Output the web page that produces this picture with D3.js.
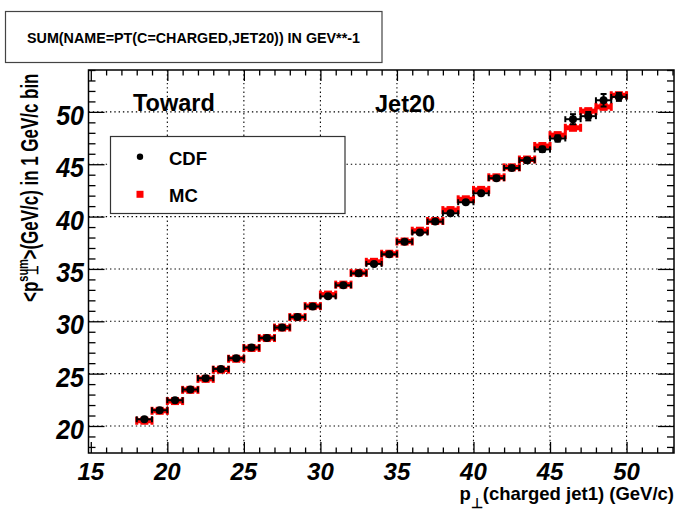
<!DOCTYPE html>
<html>
<head>
<meta charset="utf-8">
<script src="https://cdn.jsdelivr.net/npm/d3@7"></script>
<style>
  html, body { margin: 0; padding: 0; background: #fff; }
  svg { display: block; }
  text { font-family: "Liberation Sans", Arial, Helvetica, sans-serif; font-weight: bold; }
</style>
</head>
<body>
<svg id="chart" width="679" height="513"></svg>
<script>
// Leading charged-jet pT bins (GeV/c), 1 GeV/c wide
const binCenters = [18.5, 19.5, 20.5, 21.5, 22.5, 23.5, 24.5, 25.5, 26.5, 27.5,
                    28.5, 29.5, 30.5, 31.5, 32.5, 33.5, 34.5, 35.5, 36.5, 37.5,
                    38.5, 39.5, 40.5, 41.5, 42.5, 43.5, 44.5, 45.5, 46.5, 47.5,
                    48.5, 49.5];
const binHalfWidth = 0.5;

// CDF data: <pT sum> in the toward region
const cdfValues = [20.64, 21.50, 22.46, 23.48, 24.56, 25.45, 26.47, 27.49, 28.41, 29.40,
                   30.40, 31.42, 32.38, 33.44, 34.58, 35.48, 36.40, 37.60, 38.48, 39.52,
                   40.32, 41.37, 42.23, 43.67, 44.64, 45.38, 46.42, 47.46, 49.30, 49.59,
                   51.11, 51.43];
const cdfErrors = [0.08, 0.08, 0.08, 0.08, 0.08, 0.08, 0.08, 0.08, 0.08, 0.08,
                   0.08, 0.08, 0.08, 0.08, 0.08, 0.10, 0.10, 0.10, 0.10, 0.12,
                   0.12, 0.14, 0.15, 0.18, 0.20, 0.22, 0.25, 0.30, 0.48, 0.40,
                   0.60, 0.38];

// Monte Carlo prediction
const mcValues = [20.50, 21.45, 22.38, 23.45, 24.50, 25.38, 26.42, 27.45, 28.40, 29.40,
                  30.40, 31.45, 32.55, 33.50, 34.62, 35.68, 36.45, 37.62, 38.65, 39.58,
                  40.62, 41.65, 42.55, 43.75, 44.70, 45.45, 46.74, 47.78, 48.48, 50.07,
                  50.48, 51.59];
const mcErrors = [0.05, 0.05, 0.05, 0.05, 0.05, 0.05, 0.05, 0.05, 0.05, 0.05,
                  0.05, 0.05, 0.05, 0.05, 0.05, 0.05, 0.05, 0.05, 0.05, 0.05,
                  0.06, 0.06, 0.06, 0.07, 0.07, 0.08, 0.08, 0.09, 0.10, 0.10,
                  0.12, 0.12];

const xTickValues = [15, 20, 25, 30, 35, 40, 45, 50];
const yTickValues = [20, 25, 30, 35, 40, 45, 50];
const xMinorTicks = d3.range(15, 54, 1);
const yMinorTicks = d3.range(18, 55, 1);

const titleText = "SUM(NAME=PT(C=CHARGED,JET20)) IN GEV**-1";
const legendItems = [{ label: "CDF", color: "#000", shape: "circle" },
                     { label: "MC", color: "#ff0000", shape: "square" }];

// ---- frame and scales ----
const frame = { left: 88.5, right: 674, top: 70, bottom: 453 };
const x = d3.scaleLinear().domain([14.85, 53.1]).range([frame.left, frame.right]);
const y = d3.scaleLinear().domain([17.42, 54.0]).range([frame.bottom, frame.top]);

const svg = d3.select("#chart");
svg.append("rect").attr("width", 679).attr("height", 513).attr("fill", "#fff");

// dotted grid at major ticks
const grid = svg.append("g").attr("stroke", "#000").attr("stroke-width", 1.1)
  .attr("stroke-dasharray", "1.4,2.9");
grid.selectAll("line.gx").data(xTickValues.filter(v => v > 15)).join("line")
  .attr("x1", d => x(d)).attr("x2", d => x(d))
  .attr("y1", frame.top).attr("y2", frame.bottom);
grid.selectAll("line.gy").data(yTickValues).join("line")
  .attr("x1", frame.left).attr("x2", frame.right)
  .attr("y1", d => y(d)).attr("y2", d => y(d));

// axes: ticks drawn inward on all four sides
function tickAxis(axisFn, scale, values, size, transform) {
  const g = svg.append("g").attr("transform", transform)
    .call(axisFn(scale).tickValues(values).tickSize(size).tickFormat(""));
  g.select(".domain").remove();
  g.selectAll(".tick line").attr("stroke", "#000").attr("stroke-width", 1.3);
  return g;
}
const yMinor = yMinorTicks.filter(v => !yTickValues.includes(v));
const xMinor = xMinorTicks.filter(v => !xTickValues.includes(v));
tickAxis(d3.axisBottom, x, xTickValues, -11, `translate(0,${frame.bottom})`);
tickAxis(d3.axisBottom, x, xMinor, -5.5, `translate(0,${frame.bottom})`);
tickAxis(d3.axisTop, x, xTickValues, -11, `translate(0,${frame.top})`);
tickAxis(d3.axisTop, x, xMinor, -5.5, `translate(0,${frame.top})`);
tickAxis(d3.axisLeft, y, yTickValues, -16, `translate(${frame.left},0)`);
tickAxis(d3.axisLeft, y, yMinor, -7, `translate(${frame.left},0)`);
tickAxis(d3.axisRight, y, yTickValues, -16, `translate(${frame.right},0)`);
tickAxis(d3.axisRight, y, yMinor, -7, `translate(${frame.right},0)`);

// tick labels
svg.append("g").selectAll("text").data(xTickValues).join("text")
  .attr("x", d => x(d)).attr("y", 480)
  .attr("text-anchor", "middle").attr("font-size", 24).attr("font-style", "italic")
  .text(d => d);
svg.append("g").selectAll("text").data(yTickValues).join("text")
  .attr("transform", d => `translate(84,${y(d) + 13}) scale(1,1.08)`)
  .attr("text-anchor", "end").attr("font-size", 25).attr("font-style", "italic")
  .text(d => d);

// ---- data points ----
function drawSeries(values, errors, opt) {
  const g = svg.append("g");
  binCenters.forEach((c, i) => {
    const v = values[i], e = errors[i];
    const x0 = x(c - binHalfWidth), x1 = x(c + binHalfWidth), xc = x(c);
    const yc = y(v), yLo = y(v - e), yHi = y(v + e);
    g.append("line").attr("x1", x0).attr("x2", x1).attr("y1", yc).attr("y2", yc)
      .attr("stroke", opt.color).attr("stroke-width", opt.bar);
    [x0, x1].forEach(xe => g.append("line").attr("x1", xe).attr("x2", xe)
      .attr("y1", yc - opt.cap).attr("y2", yc + opt.cap)
      .attr("stroke", opt.color).attr("stroke-width", opt.capW));
    if (yLo - yHi > 2) {
      g.append("line").attr("x1", xc).attr("x2", xc).attr("y1", yHi).attr("y2", yLo)
        .attr("stroke", opt.color).attr("stroke-width", opt.bar);
      [yHi, yLo].forEach(ye => g.append("line").attr("x1", xc - opt.cap).attr("x2", xc + opt.cap)
        .attr("y1", ye).attr("y2", ye).attr("stroke", opt.color).attr("stroke-width", opt.capW));
    }
    if (opt.shape === "square") {
      g.append("rect").attr("x", xc - opt.size / 2).attr("y", yc - opt.size / 2)
        .attr("width", opt.size).attr("height", opt.size).attr("fill", opt.color);
    } else {
      g.append("circle").attr("cx", xc).attr("cy", yc).attr("r", opt.size / 2).attr("fill", opt.color);
    }
  });
}
drawSeries(mcValues, mcErrors, { color: "#ff0000", bar: 5, cap: 4, capW: 3, size: 8, shape: "square" });
drawSeries(cdfValues, cdfErrors, { color: "#000", bar: 2, cap: 3, capW: 2, size: 8, shape: "circle" });

// frame
svg.append("rect").attr("x", frame.left).attr("y", frame.top)
  .attr("width", frame.right - frame.left).attr("height", frame.bottom - frame.top)
  .attr("fill", "none").attr("stroke", "#000").attr("stroke-width", 1.5);

// ---- legend ----
const lg = svg.append("g");
lg.append("rect").attr("x", 110.5).attr("y", 136.5).attr("width", 234.5).attr("height", 77)
  .attr("fill", "#fff").attr("stroke", "#333").attr("stroke-width", 1.2);
legendItems.forEach((it, i) => {
  const cy = 156.7 + i * 37.6;
  if (it.shape === "circle") {
    lg.append("circle").attr("cx", 140).attr("cy", cy).attr("r", 3.2).attr("fill", it.color);
  } else {
    lg.append("rect").attr("x", 136.5).attr("y", cy - 3.5).attr("width", 7).attr("height", 7).attr("fill", it.color);
  }
  lg.append("text").attr("x", 169).attr("y", cy + 8).attr("font-size", 18.5).text(it.label);
});

// region labels
svg.append("text").attr("x", 133).attr("y", 110.7).attr("font-size", 23.5).text("Toward");
svg.append("text").attr("x", 375).attr("y", 111.7).attr("font-size", 23.5).text("Jet20");

// ---- title box ----
svg.append("rect").attr("x", 5.5).attr("y", 11.5).attr("width", 376.5).attr("height", 51)
  .attr("fill", "#fff").attr("stroke", "#444").attr("stroke-width", 1.2);
svg.append("text").attr("x", 193.5).attr("y", 42.7).attr("text-anchor", "middle")
  .attr("font-size", 14.3).text(titleText);

// ---- axis titles ----
const xt = svg.append("text").attr("x", 674).attr("y", 500).attr("text-anchor", "end")
  .attr("font-size", 18.5);
xt.append("tspan").text("p");
xt.append("tspan").attr("font-size", 14).attr("dy", 8).text("\u22A5");
xt.append("tspan").attr("dy", -8).text("(charged jet1) (GeV/c)");

const yt = svg.append("text").attr("font-size", 23)
  .attr("transform", "translate(38,302) rotate(-90)");
yt.append("tspan").text("<p");
const sup = yt.append("tspan").attr("font-size", 15).attr("dy", -10).text("sum");
const sub = yt.append("tspan").attr("font-size", 15).attr("dy", 10).text("\u22A5");
const rest = yt.append("tspan").text(">(GeV/c) in 1 GeV/c bin");
const supW = sup.node().getComputedTextLength();
const subW = sub.node().getComputedTextLength();
sub.attr("dx", -supW + (supW - subW) / 2);
rest.attr("dx", (supW - subW) / 2);
const ytLen = yt.node().getBBox().width;
yt.attr("transform", `translate(38,302) rotate(-90) scale(${229 / ytLen},1)`);
</script>
</body>
</html>
